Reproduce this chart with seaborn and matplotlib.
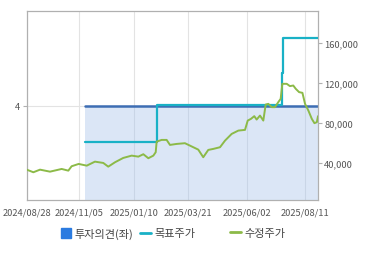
import matplotlib
matplotlib.use("Agg")
import matplotlib.pyplot as plt
import seaborn as sns
import pandas as pd
from matplotlib.lines import Line2D

sns.set_style("white")
plt.rcParams['font.family'] = ['Noto Sans CJK KR', 'DejaVu Sans']

# x axis: trading-day index (0 = 2024/08/28)
tick_pos = [0, 44, 90, 136, 185, 234]
tick_labels = ["2024/08/28", "2024/11/05", "2025/01/10", "2025/03/21", "2025/06/02", "2025/08/11"]
x_end = 245

# investment opinion (left axis)
opinion_x = [49, 245]
opinion_y = [4, 4]

# target price (right axis)
target_x = [49, 109.3, 214.5, 215.3, 245]
target_y = [61000, 98000, 130000, 165000, 165000]

# adjusted price (right axis)
price_x = [0, 5.6, 11.2, 19.6, 29.4, 35, 37.8, 43.7, 50.5, 57.4, 64.4, 68.6, 74.3,
           81.2, 88.3, 93.9, 98.1, 102.3, 106.5, 108.5, 109.3, 113.5, 117.7, 120.5,
           126.2, 133.1, 137.3, 144.3, 148.5, 152.7, 156.9, 162.6, 166.8, 172.4, 178,
           183.6, 185.9, 188.6, 191.4, 193.4, 196.2, 199, 201, 203.2, 206.1, 208.8,
           211.6, 213.6, 215, 218.7, 221.4, 224.2, 226.3, 229.1, 231.9, 234.1, 236.9,
           239.8, 242, 244, 245]
price_y = [33600, 31000, 33600, 31600, 34300, 32600, 37000, 39300, 37600, 41600, 40300,
           36600, 41000, 45300, 47600, 46600, 49000, 45000, 47600, 51000, 61600, 63300,
           63300, 58300, 59300, 60000, 57600, 53600, 46000, 53300, 54300, 56000, 62600,
           69300, 72600, 73300, 82600, 84300, 87000, 83600, 87600, 82600, 98600, 99300,
           96000, 96000, 101000, 104300, 119300, 119300, 117000, 117600, 114300, 111000,
           110300, 99300, 92600, 84300, 80000, 81000, 87000]

right_ticks = [40000, 80000, 120000, 160000]

c_op = "#3d6db3"
c_fill = "#dbe6f6"
c_tgt = "#19b1c6"
c_px = "#8cba48"
c_leg_sq = "#2b7be0"
c_grid = "#e3e3e3"
c_spine = "#b0b0b0"
c_text = "#555555"

fig = plt.figure(figsize=(3.7, 2.55), dpi=100)
ax = fig.add_axes([26.7/370, 1-201/255, (318-26.7)/370, (201-12)/255])
ax2 = ax.twinx()

# grid
for t in tick_pos:
    ax.axvline(t, color=c_grid, lw=0.8, zorder=0)
ax.axhline(4, color=c_grid, lw=0.8, zorder=0)

# opinion fill + line
ax.fill_between(opinion_x, 0, opinion_y, color=c_fill, zorder=1, lw=0)
for t in tick_pos:
    if t > opinion_x[0]:
        ax.plot([t, t], [0, 4], color="#c9d5e6", lw=0.8, zorder=1.5)
df_op = pd.DataFrame({"x": opinion_x, "y": opinion_y})
sns.lineplot(data=df_op, x="x", y="y", ax=ax, color=c_op, lw=1.8, zorder=2)
ax.set_xlim(0, x_end)
ax.set_ylim(0, 8)
ax.set_yticks([4])
ax.set_yticklabels(["4"])
ax.set_xticks(tick_pos)
ax.set_xticklabels(tick_labels)
ax.set_xlabel("")
ax.set_ylabel("")

df_t = pd.DataFrame({"x": target_x, "y": target_y})
sns.lineplot(data=df_t, x="x", y="y", ax=ax2, color=c_tgt, lw=1.6,
             drawstyle="steps-post", zorder=3)
df_p = pd.DataFrame({"x": price_x, "y": price_y})
sns.lineplot(data=df_p, x="x", y="y", ax=ax2, color=c_px, lw=1.4, zorder=4)
ax2.set_ylim(3300, 192000)
ax2.set_yticks(right_ticks)
ax2.set_yticklabels([f"{v:,}" for v in right_ticks])
ax2.set_xlim(0, x_end)
ax2.set_xlabel("")
ax2.set_ylabel("")

for a in (ax, ax2):
    for s in a.spines.values():
        s.set_color(c_spine)
        s.set_linewidth(0.8)
    a.tick_params(axis="both", which="both", colors=c_spine, labelcolor=c_text,
                  labelsize=6.7, length=3, width=0.8, pad=1.5)
ax.tick_params(axis="x", length=4)

h_op = Line2D([], [], marker="s", color="none", markerfacecolor=c_leg_sq,
              markeredgecolor=c_leg_sq, markersize=6.5)
h_tgt = Line2D([], [], color=c_tgt, lw=2)
h_px = Line2D([], [], color=c_px, lw=2)

leg_kw = dict(frameon=False, fontsize=8, handlelength=1.0, handletextpad=0.3,
              borderpad=0, borderaxespad=0, labelcolor="#444444")
leg1 = fig.legend([h_op, h_tgt], ["투자의견(좌)", "목표주가"], loc="center left",
                  bbox_to_anchor=(60/370, 1-234/255), ncol=2, columnspacing=0.6, **leg_kw)
fig.legend([h_px], ["수정주가"], loc="center left",
           bbox_to_anchor=(230/370, 1-234/255), ncol=1, **leg_kw)

fig.savefig("out.png", dpi=100)
